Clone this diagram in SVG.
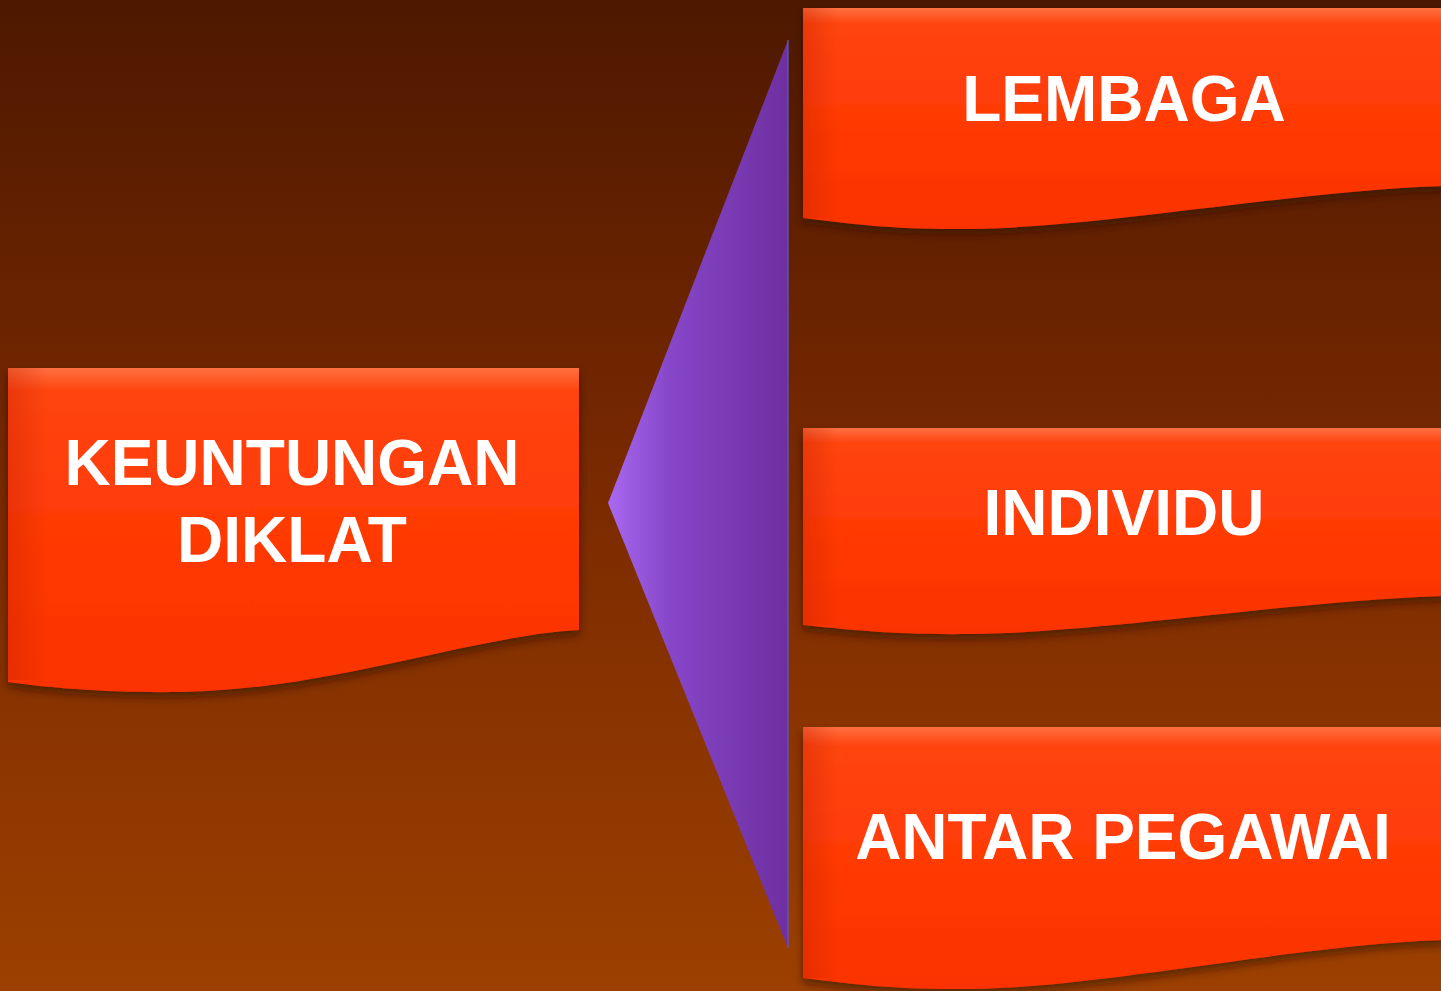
<svg xmlns="http://www.w3.org/2000/svg" width="1441" height="991" viewBox="0 0 1441 991">
<defs>
<linearGradient id="bg" x1="0" y1="0" x2="0" y2="1">
<stop offset="0" stop-color="#4d1800"/>
<stop offset="0.5" stop-color="#7b2a00"/>
<stop offset="1" stop-color="#9c4000"/>
</linearGradient>
<linearGradient id="box" x1="0" y1="0" x2="0" y2="1">
<stop offset="0" stop-color="#ff7040"/>
<stop offset="0.07" stop-color="#ff4510"/>
<stop offset="0.5" stop-color="#ff3a05"/>
<stop offset="1" stop-color="#fa3300"/>
</linearGradient>
<linearGradient id="edgeL" x1="0" y1="0" x2="1" y2="0">
<stop offset="0" stop-color="#c02000" stop-opacity="0.35"/>
<stop offset="1" stop-color="#c02000" stop-opacity="0"/>
</linearGradient>
<linearGradient id="tri" x1="0" y1="0" x2="1" y2="0">
<stop offset="0" stop-color="#a868f0"/>
<stop offset="0.35" stop-color="#8646c8"/>
<stop offset="1" stop-color="#6e2fa0"/>
</linearGradient>
<filter id="sh" x="-5%" y="-5%" width="110%" height="115%">
<feDropShadow dx="0" dy="5" stdDeviation="4" flood-color="#2a0a00" flood-opacity="0.6"/>
</filter>
</defs>
<style>
.box{fill:url(#box);filter:url(#sh)}
.lbl{font-family:"Liberation Sans",Arial,sans-serif;font-weight:bold;font-size:64px;fill:#ffffff;text-anchor:middle}
</style>
<rect width="1441" height="991" fill="url(#bg)"/>
<g id="connectors">
<polygon points="608,503 788,40 788,948" fill="url(#tri)"/>
<line x1="788" y1="40" x2="788" y2="948" stroke="#5a5ad0" stroke-width="2" opacity="0.6"/>
</g>
<g id="node-keuntungan">
<path class="box" d="M8,368 H579 V630 C470,636 330,690 180,692 C110,693 50,688 8,682 Z"/>
<rect x="8" y="368" width="40" height="312" fill="url(#edgeL)"/>
<text class="lbl" x="292" y="485">KEUNTUNGAN</text>
<text class="lbl" x="292" y="562">DIKLAT</text>
</g>
<g id="node-lembaga">
<path class="box" d="M803,8 H1445 V186 C1300,190 1100,228 970,229 C900,230 850,224 803,218 Z"/>
<rect x="803" y="8" width="35" height="210" fill="url(#edgeL)"/>
<text class="lbl" x="1124" y="121">LEMBAGA</text>
</g>
<g id="node-individu">
<path class="box" d="M803,428 H1445 V596 C1300,600 1100,633 970,634 C900,635 850,630 803,625 Z"/>
<rect x="803" y="428" width="35" height="197" fill="url(#edgeL)"/>
<text class="lbl" x="1124" y="535">INDIVIDU</text>
</g>
<g id="node-antar">
<path class="box" d="M803,727 H1445 V940 C1300,944 1100,988 970,989 C900,990 850,984 803,978 Z"/>
<rect x="803" y="727" width="35" height="251" fill="url(#edgeL)"/>
<text class="lbl" x="1123" y="859">ANTAR PEGAWAI</text>
</g>
</svg>
